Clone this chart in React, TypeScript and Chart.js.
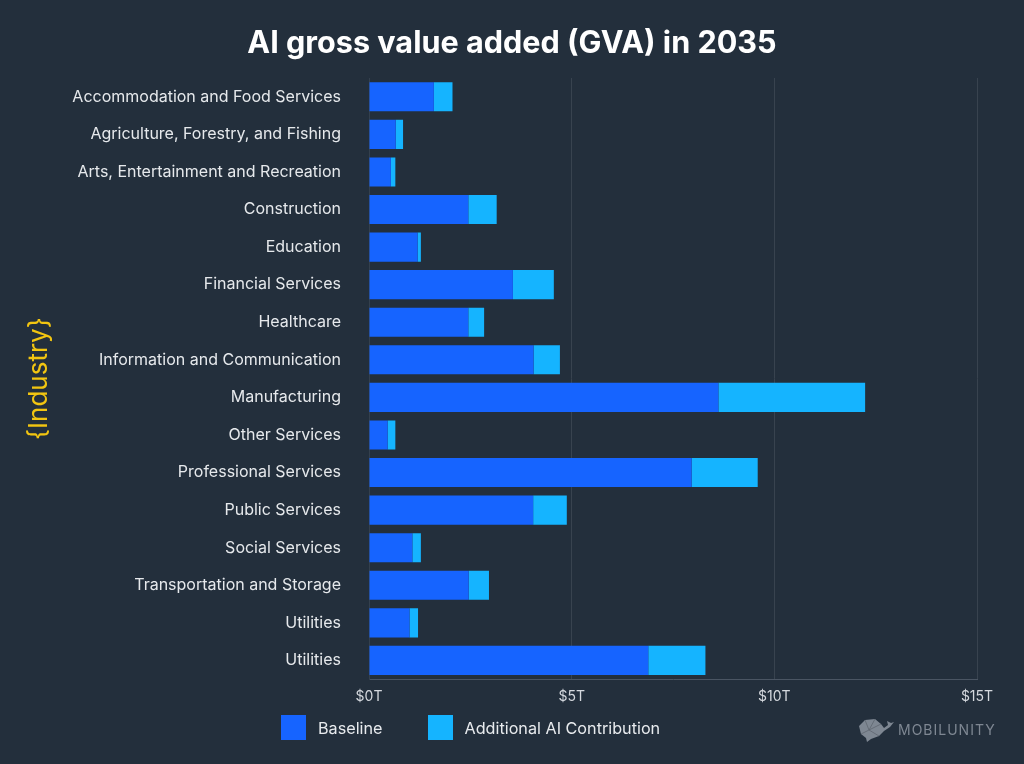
import React, { useEffect, useRef } from "react";
import { Chart, registerables } from "chart.js";

Chart.register(...registerables);

const industries = [
  "Accommodation and Food Services",
  "Agriculture, Forestry, and Fishing",
  "Arts, Entertainment and Recreation",
  "Construction",
  "Education",
  "Financial Services",
  "Healthcare",
  "Information and Communication",
  "Manufacturing",
  "Other Services",
  "Professional Services",
  "Public Services",
  "Social Services",
  "Transportation and Storage",
  "Utilities",
  "Utilities",
];

const baseline = [1.6, 0.66, 0.54, 2.45, 1.2, 3.55, 2.45, 4.06, 8.62, 0.46, 7.96, 4.05, 1.07, 2.46, 1.0, 6.89];
const additionalAI = [0.46, 0.18, 0.11, 0.7, 0.08, 1.01, 0.39, 0.65, 3.62, 0.19, 1.63, 0.83, 0.21, 0.5, 0.21, 1.41];

const seriesNames = ["Baseline", "Additional AI Contribution"];
const seriesColors = ["#1664FF", "#15B4FF"];
const xTicks = [0, 5, 10, 15];
const chartTitle = "AI gross value added (GVA) in 2035";

const BG = "#232F3C";
const FONT = "Inter, 'Noto Sans', sans-serif";

export default function App() {
  const canvasRef = useRef<HTMLCanvasElement | null>(null);

  useEffect(() => {
    document.body.style.margin = "0";
    document.body.style.background = BG;
    const canvas = canvasRef.current;
    if (!canvas) return;
    const chart = new Chart(canvas, {
      type: "bar",
      data: {
        labels: industries,
        datasets: [
          {
            label: seriesNames[0],
            data: baseline,
            backgroundColor: seriesColors[0],
            borderWidth: 0,
            barPercentage: 0.775,
            categoryPercentage: 1,
          },
          {
            label: seriesNames[1],
            data: additionalAI,
            backgroundColor: seriesColors[1],
            borderWidth: 0,
            barPercentage: 0.775,
            categoryPercentage: 1,
          },
        ],
      },
      options: {
        indexAxis: "y",
        animation: false,
        responsive: false,
        maintainAspectRatio: false,
        layout: { padding: { left: 0, right: 47, top: 78, bottom: 50 } },
        plugins: {
          legend: { display: false },
          tooltip: { enabled: false },
          title: { display: false },
        },
        scales: {
          x: {
            stacked: true,
            min: xTicks[0],
            max: xTicks[xTicks.length - 1],
            afterBuildTicks: (scale: any) => {
              scale.ticks = xTicks.map((v) => ({ value: v }));
            },
            ticks: {
              color: "#D5D9DE",
              font: { family: FONT, size: 14 },
              padding: 9,
              callback: (v: any) => `$${v}T`,
            },
            grid: { color: "#38434F", drawTicks: false, lineWidth: 1 },
            border: { display: true, color: "#4A5563", width: 1 },
          },
          y: {
            stacked: true,
            afterFit: (scale: any) => {
              scale.width = 369;
            },
            ticks: {
              color: "#E6E9EC",
              font: { family: FONT, size: 16 },
              padding: 28,
            },
            grid: { display: false, drawTicks: false },
            border: { display: true, color: "#34404D", width: 1 },
            title: {
              display: true,
              text: "{Industry}",
              color: "#F2C511",
              font: { family: FONT, size: 26 },
              padding: { top: 24, bottom: 0 },
            },
          },
        },
      },
    });
    return () => chart.destroy();
  }, []);

  return (
    <div style={{ position: "relative", width: 1024, height: 764, background: BG, overflow: "hidden" }}>
      <canvas ref={canvasRef} width={1024} height={764} style={{ display: "block" }} />
      <div
        style={{
          position: "absolute",
          left: 0,
          top: 22,
          width: 1024,
          height: 40,
          lineHeight: "40px",
          textAlign: "center",
          fontFamily: FONT,
          fontSize: 30.6,
          fontWeight: 700,
          color: "#FFFFFF",
        }}
      >
        {chartTitle}
      </div>
      <div
        style={{
          position: "absolute",
          left: 281,
          top: 715,
          height: 25,
          display: "flex",
          alignItems: "center",
          fontFamily: FONT,
          fontSize: 16.2,
          color: "#E8EBEE",
        }}
      >
        {seriesNames.map((name, i) => (
          <div key={name} style={{ display: "flex", alignItems: "center", marginRight: 45 }}>
            <span style={{ width: 25, height: 25, background: seriesColors[i], display: "inline-block", marginRight: 12 }} />
            <span>{name}</span>
          </div>
        ))}
      </div>
      <div
        style={{
          position: "absolute",
          left: 857,
          top: 716,
          height: 26,
          display: "flex",
          alignItems: "center",
          fontFamily: FONT,
          fontSize: 14,
          letterSpacing: 1,
          color: "#7E8792",
        }}
      >
        <svg width="38" height="26" viewBox="0 0 38 26" style={{ marginRight: 3 }}>
          <path d="M2 10 L8 4 L18 3 L24 8 L27 12 L31 9 L30 5 L34 7 L37 6 L33 11 L27 15 L22 20 L14 23 L10 26 L9 22 L4 18 Z" fill="#7E8792" />
          <path d="M8 4 L12 14 L18 3 M12 14 L24 8 M12 14 L22 20 M4 18 L12 14" stroke="#5E6670" strokeWidth="0.8" fill="none" />
        </svg>
        <span>MOBILUNITY</span>
      </div>
    </div>
  );
}
